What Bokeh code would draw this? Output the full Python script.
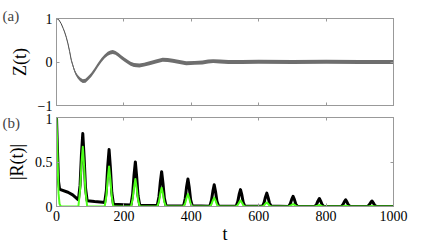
from bokeh.plotting import figure
from bokeh.layouts import column
from bokeh.models import LinearAxis, FixedTicker, Range1d
from bokeh.embed import file_html
from bokeh.resources import INLINE

# ---------------- data ----------------
tZ = [0, 7, 14, 20, 24, 29, 34, 39, 44, 49,
      53, 58, 63, 70, 78, 86, 93, 103, 113, 123,
      133, 143, 152, 160, 167, 175, 184, 192, 202, 212,
      220, 230, 246, 260, 276, 295, 315, 330, 345, 365,
      385, 410, 433, 450, 465, 485, 510, 550, 600, 700,
      800, 900, 1000]
Z_mid = [1.0, 0.97, 0.88, 0.77, 0.69, 0.57, 0.42, 0.24, 0.04, -0.09,
         -0.19, -0.28, -0.34, -0.40, -0.44, -0.43, -0.38, -0.30, -0.19, -0.07,
         0.04, 0.13, 0.19, 0.22, 0.23, 0.21, 0.16, 0.11, 0.05, 0.0,
         -0.04, -0.07, -0.08, -0.06, -0.03, 0.01, 0.05, 0.045, 0.03, 0.0,
         -0.03, -0.02, -0.01, 0.01, 0.02, 0.01, 0.0, 0.0, 0.005, 0.0,
         0.005, 0.0, 0.0]
Z_band = [0, 0, 0, 0.005, 0.01, 0.015, 0.02, 0.025, 0.03, 0.033,
          0.035, 0.038, 0.04, 0.042, 0.044, 0.045, 0.045, 0.045, 0.045, 0.045,
          0.045, 0.045, 0.045, 0.045, 0.045, 0.045, 0.045, 0.045, 0.045, 0.045,
          0.045, 0.045, 0.045, 0.045, 0.045, 0.045, 0.045, 0.045, 0.045, 0.045,
          0.045, 0.045, 0.045, 0.045, 0.045, 0.045, 0.045, 0.045, 0.045, 0.045,
          0.045, 0.045, 0.045]

tR_black = [0, 3, 6, 9, 12, 34, 48, 60,
            65, 70, 74, 78, 82, 86, 91, 113, 137,
            143, 148, 152, 156, 160, 164, 169, 200,
            221, 226, 230, 234, 238, 242, 247, 280,
            299, 304, 308, 312, 316, 320, 325, 350,
            377, 382, 386, 390, 394, 398, 403, 430,
            455, 460, 464, 468, 472, 476, 481, 510,
            533, 538, 542, 546, 550, 554, 559, 590,
            611, 616, 620, 624, 628, 632, 637, 660,
            689, 694, 698, 702, 706, 710, 715, 740,
            767, 772, 776, 780, 784, 788, 793, 820,
            845, 850, 854, 858, 862, 866, 871, 900,
            923, 928, 932, 936, 940, 944, 949, 1000]
R_black = [1.0, 0.62, 0.28, 0.20, 0.19, 0.16, 0.13, 0.09,
           0.075, 0.24, 0.58, 0.82, 0.55, 0.21, 0.065, 0.055, 0.048,
           0.045, 0.18, 0.45, 0.64, 0.43, 0.16, 0.025, 0.02,
           0.018, 0.14, 0.35, 0.50, 0.33, 0.12, 0.015, 0.012,
           0.01, 0.11, 0.27, 0.39, 0.26, 0.095, 0.008, 0.007,
           0.006, 0.09, 0.22, 0.31, 0.21, 0.075, 0.005, 0.005,
           0.004, 0.07, 0.17, 0.245, 0.165, 0.06, 0.003, 0.003,
           0.002, 0.055, 0.135, 0.19, 0.13, 0.047, 0.002, 0.002,
           0.002, 0.043, 0.105, 0.15, 0.10, 0.037, 0.002, 0.002,
           0.001, 0.033, 0.08, 0.115, 0.077, 0.028, 0.001, 0.001,
           0.001, 0.026, 0.063, 0.09, 0.06, 0.022, 0.001, 0.001,
           0.001, 0.021, 0.052, 0.075, 0.05, 0.018, 0.001, 0.001,
           0.001, 0.018, 0.043, 0.062, 0.041, 0.015, 0.001, 0.0]

tR_green = [0, 3, 6, 9, 13, 63,
            65, 70, 74, 78, 82, 86, 91,
            143, 148, 152, 156, 160, 164, 169,
            221, 226, 230, 234, 238, 242, 247,
            299, 304, 308, 312, 316, 320, 325,
            377, 382, 386, 390, 394, 398, 403,
            455, 460, 464, 468, 472, 476, 481,
            533, 538, 542, 546, 550, 554, 559,
            611, 616, 620, 624, 628, 632, 637,
            689, 694, 698, 702, 706, 710, 715,
            767, 772, 776, 780, 784, 788, 793,
            845, 850, 854, 858, 862, 866, 871,
            923, 928, 932, 936, 940, 944, 949, 1000]
R_green = [1.0, 0.55, 0.15, 0.03, 0.0, 0.0,
           0.0, 0.19, 0.47, 0.67, 0.45, 0.17, 0.0,
           0.0, 0.12, 0.31, 0.45, 0.30, 0.11, 0.0,
           0.0, 0.085, 0.21, 0.31, 0.20, 0.075, 0.0,
           0.0, 0.055, 0.145, 0.21, 0.14, 0.05, 0.0,
           0.0, 0.038, 0.095, 0.14, 0.09, 0.034, 0.0,
           0.0, 0.027, 0.068, 0.10, 0.065, 0.024, 0.0,
           0.0, 0.018, 0.046, 0.067, 0.044, 0.016, 0.0,
           0.0, 0.012, 0.031, 0.045, 0.03, 0.011, 0.0,
           0.0, 0.008, 0.019, 0.028, 0.018, 0.007, 0.0,
           0.0, 0.005, 0.012, 0.017, 0.011, 0.004, 0.0,
           0.0, 0.003, 0.007, 0.01, 0.0065, 0.002, 0.0,
           0.0, 0.002, 0.004, 0.006, 0.004, 0.001, 0.0, 0.0]

x_ticks = [0, 200, 400, 600, 800, 1000]
za_ticks = [-1, 0, 1]
zb_ticks = [0, 0.5, 1]
za_tick_labels = {-1: "\u22121", 0: "0", 1: "1"}
zb_tick_labels = {0: "0", 0.5: "0.5", 1: "1"}

FONT = "Liberation Serif"
FRAME = "#999999"
GREEN = "#4dff1a"


def base_axis(ax, ticks):
    ax.ticker = FixedTicker(ticks=ticks)
    ax.axis_line_color = FRAME
    ax.major_tick_line_color = FRAME
    ax.major_tick_in = 3
    ax.major_tick_out = 0
    ax.minor_tick_line_color = None
    ax.major_label_text_font = FONT
    ax.major_label_text_font_size = "14px"
    ax.major_label_text_color = "black"
    ax.major_label_standoff = 4
    ax.axis_label_text_font = FONT
    ax.axis_label_text_font_size = "18px"
    ax.axis_label_text_font_style = "normal"
    ax.axis_label_text_color = "black"


def blank_axis(ax, ticks):
    base_axis(ax, ticks)
    ax.major_label_overrides = {t: "" for t in ticks}
    ax.major_label_standoff = 0


def make_fig(yr, fh, top, bottom, tag, standoff):
    p = figure(frame_width=337, frame_height=fh, output_backend="svg",
               toolbar_location=None, x_range=Range1d(0, 1000), y_range=yr,
               min_border_left=56, min_border_right=34, min_border_top=top,
               min_border_bottom=bottom, title=tag)
    p.title.align = "left"
    p.title.offset = -54
    p.title.text_font = FONT
    p.title.text_font_size = "15px"
    p.title.text_font_style = "normal"
    p.title.standoff = standoff
    p.outline_line_color = FRAME
    p.grid.visible = False
    p.add_layout(LinearAxis(), "above")
    p.add_layout(LinearAxis(), "right")
    return p


# ---------------- panel (a) ----------------
p1 = make_fig(Range1d(-1, 1), 87, 18, 8, "(a)", -10)
lo = [m - b for m, b in zip(Z_mid, Z_band)]
hi = [m + b for m, b in zip(Z_mid, Z_band)]
p1.line(tZ, Z_mid, line_color="#444444", line_width=1)
p1.varea(x=tZ, y1=lo, y2=hi, fill_color="#6e6e6e", fill_alpha=1.0)
base_axis(p1.left[0], za_ticks)
p1.left[0].major_label_overrides = za_tick_labels
p1.left[0].axis_label = "Z(t)"
p1.left[0].axis_label_standoff = 5
blank_axis(p1.below[0], x_ticks)
blank_axis(p1.above[0], x_ticks)
blank_axis(p1.right[0], za_ticks)

# ---------------- panel (b) ----------------
p2 = make_fig(Range1d(0, 1), 89, 4, 0, "(b)", -27)
p2.line(tR_black, R_black, line_color="black", line_width=3, line_join="round")
p2.line(tR_green, R_green, line_color=GREEN, line_width=2, line_join="round")
base_axis(p2.left[0], zb_ticks)
p2.left[0].major_label_overrides = zb_tick_labels
p2.left[0].axis_label = "|R(t)|"
p2.left[0].axis_label_standoff = 5
base_axis(p2.below[0], x_ticks)
p2.below[0].axis_label = "t"
p2.below[0].axis_label_standoff = 0
blank_axis(p2.above[0], x_ticks)
blank_axis(p2.right[0], zb_ticks)

layout = column(p1, p2, spacing=0)
open("out.html", "w").write(file_html(layout, INLINE))
